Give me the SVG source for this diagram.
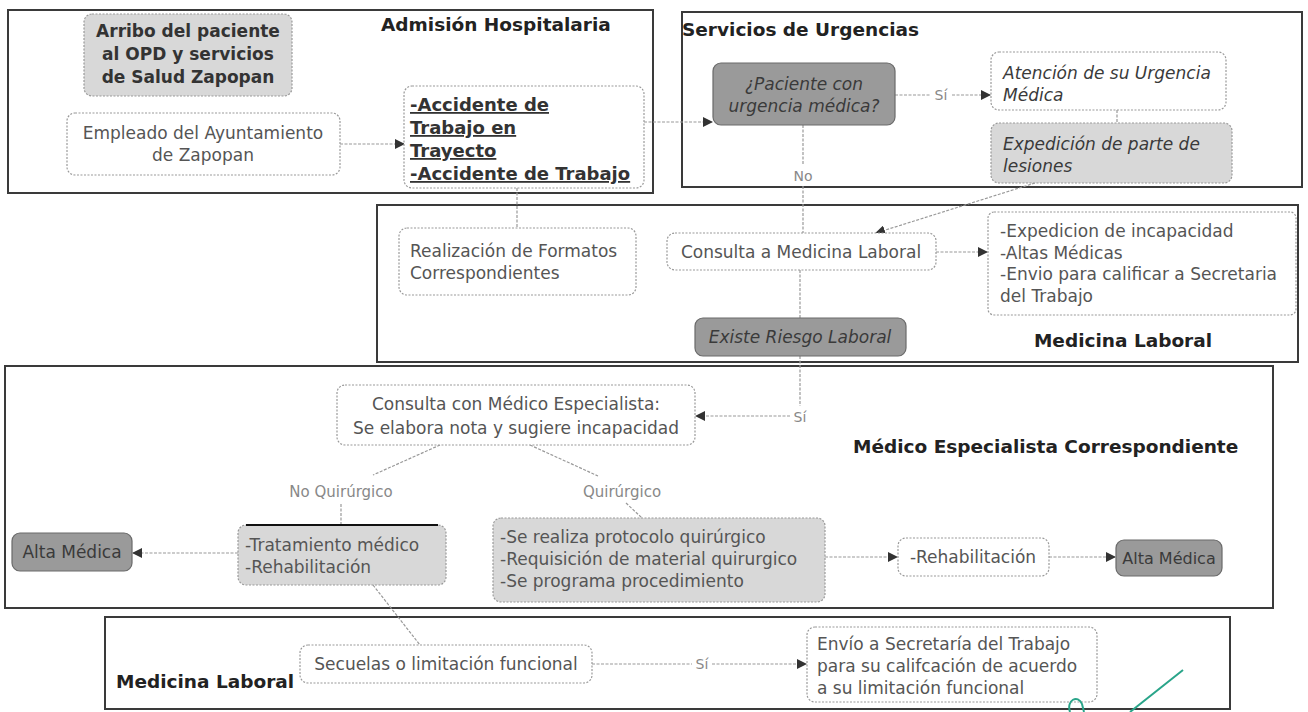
<svg xmlns="http://www.w3.org/2000/svg" width="1308" height="712" viewBox="0 0 1308 712">
<defs>
<marker id="ah" viewBox="0 0 10 10" refX="9" refY="5" markerWidth="10" markerHeight="10" markerUnits="userSpaceOnUse" orient="auto">
<path d="M0,0 L10,5 L0,10 z" fill="#333"/>
</marker>
</defs>
<style>
.cont{fill:none;stroke:#3a3a3a;stroke-width:2}
.n{fill:#fff;stroke:#9a9a9a;stroke-width:1.2;stroke-dasharray:2 1.5}
.lt{fill:#d8d8d8;stroke:#9a9a9a;stroke-width:1.2;stroke-dasharray:2 1.5}
.dk{fill:#9a9a9a;stroke:#6a6a6a;stroke-width:1.2}
text{font-family:"DejaVu Sans","Open Sans",sans-serif;font-size:17px;fill:#555}
.t{font-weight:bold;font-size:18.5px;fill:#222}
.b{font-weight:bold;font-size:17px;fill:#333}
.ba{font-weight:bold;font-size:18px;fill:#333;text-decoration:underline}
.i{font-style:italic;fill:#3a3a3a}
.d{fill:#3a3a3a}
.c{text-anchor:middle}
.lbl{font-size:14px;fill:#888}
.e{fill:none;stroke:#999;stroke-width:1.2;stroke-dasharray:3 1.5}
.ea{fill:none;stroke:#999;stroke-width:1.2;stroke-dasharray:3 1.5;marker-end:url(#ah)}
</style>
<rect width="1308" height="712" fill="#fff"/>

<g id="containers">
<rect class="cont" x="8" y="10" width="645" height="183"/>
<rect class="cont" x="682" y="12" width="620" height="175"/>
<rect class="cont" x="377" y="205" width="921" height="157"/>
<rect class="cont" x="5" y="366" width="1268" height="242"/>
<rect class="cont" x="105" y="617" width="1125" height="92"/>
<text class="t" x="381" y="31">Admisión Hospitalaria</text>
<text class="t" x="682" y="36">Servicios de Urgencias</text>
<text class="t c" x="1123" y="347">Medicina Laboral</text>
<text class="t" x="853" y="453">Médico Especialista Correspondiente</text>
<text class="t" x="116" y="688">Medicina Laboral</text>
</g>

<g id="connectors">
<line class="ea" x1="340" y1="144" x2="404" y2="144"/>
<line class="ea" x1="644" y1="122" x2="712" y2="122"/>
<line class="e" x1="895" y1="95" x2="930" y2="95"/>
<line class="ea" x1="952" y1="95" x2="990" y2="95"/>
<text class="lbl c" x="941" y="100">Sí</text>
<line class="e" x1="1117" y1="110" x2="1117" y2="123"/>
<line class="ea" x1="1035" y1="183" x2="876" y2="233"/>
<line class="e" x1="803" y1="125" x2="803" y2="164"/>
<text class="lbl c" x="803" y="181">No</text>
<line class="e" x1="803" y1="186" x2="803" y2="233"/>
<line class="e" x1="517" y1="188" x2="517" y2="228"/>
<line class="ea" x1="936" y1="252" x2="987" y2="252"/>
<line class="e" x1="800" y1="270" x2="800" y2="318"/>
<line class="e" x1="800" y1="356" x2="800" y2="406"/>
<text class="lbl c" x="800" y="422">Sí</text>
<line class="ea" x1="790" y1="416" x2="696" y2="416"/>
<line class="e" x1="440" y1="445" x2="373" y2="475"/>
<text class="lbl c" x="341" y="497" style="font-size:15px">No Quirúrgico</text>
<line class="e" x1="341" y1="504" x2="341" y2="525"/>
<line class="e" x1="530" y1="445" x2="598" y2="476"/>
<text class="lbl c" x="622" y="497" style="font-size:15px">Quirúrgico</text>
<line class="e" x1="626" y1="503" x2="642" y2="518"/>
<line class="ea" x1="238" y1="553" x2="133" y2="553"/>
<line class="ea" x1="825" y1="557" x2="897" y2="557"/>
<line class="ea" x1="1049" y1="557" x2="1115" y2="557"/>
<line class="e" x1="373" y1="585" x2="420" y2="645"/>
<line class="e" x1="592" y1="664" x2="692" y2="664"/>
<text class="lbl c" x="702" y="669">Sí</text>
<line class="ea" x1="712" y1="664" x2="806" y2="664"/>
</g>

<g id="arribo">
<rect class="lt" x="84" y="14" width="208" height="82" rx="8"/>
<text class="b c" x="188" y="37">Arribo del paciente</text>
<text class="b c" x="188" y="60">al OPD y servicios</text>
<text class="b c" x="188" y="83">de Salud Zapopan</text>
</g>

<g id="empleado">
<rect class="n" x="67" y="113" width="273" height="62" rx="8"/>
<text class="c" x="203" y="139">Empleado del Ayuntamiento</text>
<text class="c" x="203" y="161">de Zapopan</text>
</g>

<g id="accidente">
<rect class="n" x="404" y="86" width="240" height="102" rx="8"/>
<text class="ba" x="410" y="111">-Accidente de</text>
<text class="ba" x="410" y="134">Trabajo en</text>
<text class="ba" x="410" y="157">Trayecto</text>
<text class="ba" x="410" y="180">-Accidente de Trabajo</text>
</g>

<g id="decision">
<rect class="dk" x="713" y="63" width="182" height="62" rx="8"/>
<text class="i c" x="804" y="90">¿Paciente con</text>
<text class="i c" x="804" y="112">urgencia médica?</text>
</g>

<g id="atencion">
<rect class="n" x="991" y="52" width="235" height="58" rx="8"/>
<text class="i" x="1003" y="79">Atención de su Urgencia</text>
<text class="i" x="1003" y="101">Médica</text>
</g>

<g id="expedicion">
<rect class="lt" x="991" y="123" width="241" height="60" rx="8"/>
<text class="i" x="1003" y="150">Expedición de parte de</text>
<text class="i" x="1003" y="172">lesiones</text>
</g>

<g id="realizacion">
<rect class="n" x="399" y="228" width="237" height="67" rx="8"/>
<text x="410" y="257">Realización de Formatos</text>
<text x="410" y="279">Correspondientes</text>
</g>

<g id="consulta-ml">
<rect class="n" x="667" y="233" width="269" height="37" rx="8"/>
<text class="c" x="801" y="258">Consulta a Medicina Laboral</text>
</g>

<g id="info-ml">
<rect class="n" x="988" y="212" width="308" height="103" rx="6"/>
<text x="1000" y="237">-Expedicion de incapacidad</text>
<text x="1000" y="259">-Altas Médicas</text>
<text x="1000" y="280">-Envio para calificar a Secretaria</text>
<text x="1000" y="302">del Trabajo</text>
</g>

<g id="existe">
<rect class="dk" x="695" y="318" width="211" height="38" rx="8"/>
<text class="i c" x="800" y="343">Existe Riesgo Laboral</text>
</g>

<g id="consulta-esp">
<rect class="n" x="337" y="385" width="358" height="60" rx="8"/>
<text class="c" x="516" y="410">Consulta con Médico Especialista:</text>
<text class="c" x="516" y="434">Se elabora nota y sugiere incapacidad</text>
</g>

<g id="tratamiento">
<rect class="lt" x="238" y="525" width="208" height="60" rx="8"/>
<line x1="246" y1="525" x2="438" y2="525" stroke="#111" stroke-width="2"/>
<text x="245" y="551">-Tratamiento médico</text>
<text x="245" y="573">-Rehabilitación</text>
</g>

<g id="alta-izq">
<rect class="dk" x="12" y="533" width="120" height="38" rx="8"/>
<text class="c d" x="72" y="558">Alta Médica</text>
</g>

<g id="protocolo">
<rect class="lt" x="493" y="518" width="332" height="84" rx="8"/>
<text x="500" y="543">-Se realiza protocolo quirúrgico</text>
<text x="500" y="565">-Requisición de material quirurgico</text>
<text x="500" y="587">-Se programa procedimiento</text>
</g>

<g id="rehabilitacion">
<rect class="n" x="898" y="538" width="151" height="38" rx="8"/>
<text class="c" x="973" y="563">-Rehabilitación</text>
</g>

<g id="alta-der">
<rect class="dk" x="1116" y="540" width="106" height="36" rx="8"/>
<text class="c d" x="1169" y="564" style="font-size:16px">Alta Médica</text>
</g>

<g id="secuelas">
<rect class="n" x="300" y="645" width="292" height="38" rx="8"/>
<text class="c" x="446" y="670">Secuelas o limitación funcional</text>
</g>

<g id="envio">
<rect class="n" x="807" y="627" width="290" height="75" rx="8"/>
<text x="817" y="650">Envío a Secretaría del Trabajo</text>
<text x="817" y="672">para su califcación de acuerdo</text>
<text x="817" y="694">a su limitación funcional</text>
</g>

<path d="M1070,712 C1066,700 1078,694 1082,704 L1084,712 M1130,712 L1183,670" fill="none" stroke="#2aa58a" stroke-width="2"/>
</svg>
